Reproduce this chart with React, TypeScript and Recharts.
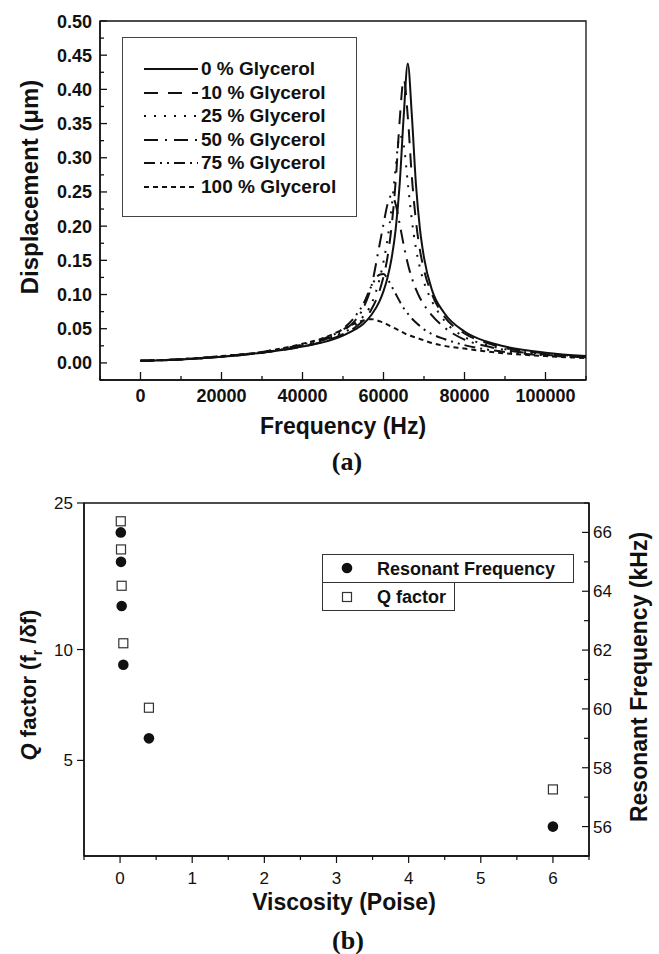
import React from "react";
import { LineChart, Line, XAxis, YAxis, ReferenceArea, ScatterChart, Scatter } from "recharts";

// ---- (a) displacement vs frequency ----
const freqHz = [0, 10000, 20000, 30000, 40000, 45000, 50000, 53000, 55000, 57000, 59000, 60000, 61000, 62000, 63000, 64000, 65000, 66000, 67000, 68000, 69000, 70000, 72000, 75000, 80000, 85000, 90000, 100000, 110000];
const glycerol0 = [0.003, 0.005, 0.009, 0.015, 0.024, 0.030, 0.040, 0.049, 0.057, 0.070, 0.090, 0.105, 0.125, 0.153, 0.195, 0.262, 0.362, 0.438, 0.362, 0.262, 0.196, 0.154, 0.106, 0.073, 0.046, 0.032, 0.024, 0.015, 0.010];
const glycerol10 = [0.003, 0.005, 0.009, 0.015, 0.024, 0.031, 0.042, 0.052, 0.062, 0.078, 0.105, 0.126, 0.155, 0.200, 0.265, 0.355, 0.415, 0.360, 0.272, 0.208, 0.165, 0.136, 0.100, 0.068, 0.043, 0.030, 0.022, 0.014, 0.009];
const glycerol25 = [0.003, 0.005, 0.009, 0.015, 0.025, 0.032, 0.044, 0.055, 0.068, 0.086, 0.122, 0.148, 0.181, 0.227, 0.285, 0.333, 0.318, 0.263, 0.209, 0.168, 0.139, 0.118, 0.090, 0.062, 0.038, 0.027, 0.020, 0.013, 0.009];
const glycerol50 = [0.003, 0.005, 0.0095, 0.015, 0.026, 0.033, 0.047, 0.062, 0.080, 0.112, 0.172, 0.203, 0.232, 0.245, 0.232, 0.203, 0.172, 0.145, 0.124, 0.108, 0.095, 0.085, 0.069, 0.052, 0.034, 0.025, 0.019, 0.012, 0.008];
const glycerol75 = [0.003, 0.0055, 0.0095, 0.016, 0.027, 0.035, 0.050, 0.068, 0.086, 0.112, 0.129, 0.130, 0.123, 0.112, 0.101, 0.090, 0.080, 0.072, 0.065, 0.059, 0.054, 0.049, 0.042, 0.035, 0.026, 0.020, 0.016, 0.011, 0.008];
const glycerol100 = [0.003, 0.0055, 0.010, 0.016, 0.028, 0.036, 0.049, 0.058, 0.062, 0.064, 0.061, 0.059, 0.056, 0.053, 0.050, 0.047, 0.044, 0.041, 0.039, 0.037, 0.035, 0.033, 0.029, 0.025, 0.021, 0.017, 0.014, 0.010, 0.007];

const seriesNames = ["0 % Glycerol", "10 % Glycerol", "25 % Glycerol", "50 % Glycerol", "75 % Glycerol", "100 % Glycerol"];
const seriesValues = [glycerol0, glycerol10, glycerol25, glycerol50, glycerol75, glycerol100];
const dashes = ["", "14 10", "2 8", "14 7 2 7", "11 5 2 5 2 5", "5 4"];

const freqTicks = [-10000, 0, 10000, 20000, 30000, 40000, 50000, 60000, 70000, 80000, 90000, 100000, 110000];
const dispTicks = [-0.025, 0, 0.025, 0.05, 0.075, 0.1, 0.125, 0.15, 0.175, 0.2, 0.225, 0.25, 0.275, 0.3, 0.325, 0.35, 0.375, 0.4, 0.425, 0.45, 0.475, 0.5];

// ---- (b) Q factor and resonant frequency vs viscosity ----
const viscosity = [0.01, 0.013, 0.022, 0.045, 0.4, 6];
const resonantKHz = [66.0, 65.0, 63.5, 61.5, 59.0, 56.0];
const qFactor = [22.3, 18.7, 14.9, 10.4, 6.95, 4.17];

const viscTicks = [-0.5, 0, 0.5, 1, 1.5, 2, 2.5, 3, 3.5, 4, 4.5, 5, 5.5, 6, 6.5];
const qTicks = [5, 10, 25];
const kHzTicks = [55, 56, 57, 58, 59, 60, 61, 62, 63, 64, 65, 66, 67];

const rows = freqHz.map((f, i) => {
  const r: Record<string, number> = { f };
  seriesNames.forEach((n, k) => (r[n] = seriesValues[k][i]));
  return r;
});
const resData = viscosity.map((v, i) => ({ v, khz: resonantKHz[i] }));
const qData = viscosity.map((v, i) => ({ v, q: qFactor[i] }));

const FONT = '"Liberation Sans", Arial, Helvetica, sans-serif';
const INK = "#111";

const FreqTick = ({ x, y, payload }: any) => {
  const v = payload.value;
  const major = v >= 0 && v % 20000 === 0;
  return (
    <g>
      <line x1={x} x2={x} y1={y} y2={y - (major ? 8 : 4)} stroke={INK} strokeWidth={1.3} />
      {major && (
        <text x={x} y={y + 22} textAnchor="middle" fontFamily={FONT} fontWeight="bold" fontSize={18} fill={INK}>
          {v}
        </text>
      )}
    </g>
  );
};

const DispTick = ({ x, y, payload }: any) => {
  const v = payload.value;
  const k = Math.round(v * 40);
  const major = k % 2 === 0 && v >= 0;
  return (
    <g>
      <line x1={x} x2={x + (major ? 7 : 4)} y1={y} y2={y} stroke={INK} strokeWidth={1.3} />
      {major && (
        <text x={x - 8} y={y + 6.5} textAnchor="end" fontFamily={FONT} fontWeight="bold" fontSize={18} fill={INK}>
          {v.toFixed(2)}
        </text>
      )}
    </g>
  );
};

const ViscTick = ({ x, y, payload }: any) => {
  const v = payload.value;
  const major = Number.isInteger(v);
  return (
    <g>
      <line x1={x} x2={x} y1={y} y2={y + (major ? 7 : 4)} stroke={INK} strokeWidth={1.2} />
      {major && (
        <text x={x} y={y + 27.5} textAnchor="middle" fontFamily={FONT} fontSize={17} fill={INK}>
          {v}
        </text>
      )}
    </g>
  );
};

const QTick = ({ x, y, payload }: any) => (
  <g>
    <line x1={x - 7} x2={x} y1={y} y2={y} stroke={INK} strokeWidth={1.2} />
    <text x={x - 11} y={y + 6} textAnchor="end" fontFamily={FONT} fontSize={17} fill={INK}>
      {payload.value}
    </text>
  </g>
);

const KHzTick = ({ x, y, payload }: any) => {
  const v = payload.value;
  const major = v % 2 === 0;
  return (
    <g>
      <line x1={x - (major ? 7 : 5)} x2={x} y1={y} y2={y} stroke={INK} strokeWidth={1.2} />
      {major && (
        <text x={x + 4} y={y + 6} textAnchor="start" fontFamily={FONT} fontSize={17} fill={INK}>
          {v}
        </text>
      )}
    </g>
  );
};

const Dot = (p: any) => <circle cx={p.cx} cy={p.cy} r={5.3} fill={INK} />;
const Box = (p: any) => (
  <rect x={p.cx - 4.5} y={p.cy - 4.5} width={9} height={9} fill="#fff" stroke="#333" strokeWidth={1.2} />
);

const title: React.CSSProperties = {
  position: "absolute",
  fontFamily: FONT,
  fontWeight: "bold",
  color: INK,
  whiteSpace: "nowrap",
  lineHeight: 1,
};

export default function App() {
  return (
    <div style={{ position: "absolute", left: 0, top: 0, width: 659, height: 954, background: "#fff" }}>
      {/* chart (a) */}
      <div style={{ position: "absolute", left: 0, top: 0 }}>
        <LineChart width={659} height={430} data={rows} margin={{ top: 21, right: 73, bottom: 0, left: 0 }}>
          <XAxis
            dataKey="f"
            type="number"
            domain={[-10000, 110000]}
            ticks={freqTicks}
            interval={0}
            height={50}
            tickSize={0}
            tickMargin={0}
            tickLine={false}
            tick={<FreqTick />}
            axisLine={{ stroke: INK, strokeWidth: 1.5 }}
          />
          <YAxis
            type="number"
            domain={[-0.025, 0.5]}
            ticks={dispTicks}
            interval={0}
            width={100}
            tickSize={0}
            tickMargin={0}
            tickLine={false}
            tick={<DispTick />}
            axisLine={{ stroke: INK, strokeWidth: 1.5 }}
          />
          <ReferenceArea x1={-10000} x2={110000} y1={-0.025} y2={0.5} fill="none" stroke={INK} strokeWidth={1.3} />
          {seriesNames.map((n, i) => (
            <Line
              key={n}
              dataKey={n}
              type="monotone"
              stroke={INK}
              strokeWidth={2}
              strokeDasharray={dashes[i] || undefined}
              dot={false}
              isAnimationActive={false}
            />
          ))}
        </LineChart>
      </div>

      {/* legend (a) */}
      <div
        style={{
          position: "absolute",
          left: 122,
          top: 37,
          width: 235,
          height: 180,
          border: "1px solid #444",
          boxSizing: "border-box",
          background: "#fff",
        }}
      >
        {seriesNames.map((n, i) => (
          <div key={n} style={{ position: "absolute", left: 21, top: 21 + i * 23.5, height: 20, display: "flex", alignItems: "center" }}>
            <svg width={54} height={10}>
              <line x1={0} x2={54} y1={5} y2={5} stroke={INK} strokeWidth={2} strokeDasharray={dashes[i] || undefined} />
            </svg>
            <span style={{ marginLeft: 3, fontFamily: FONT, fontWeight: "bold", fontSize: 19, color: INK }}>{n}</span>
          </div>
        ))}
      </div>

      <div style={{ ...title, fontSize: 24, left: 30, top: 187, transform: "translate(-50%, -50%) rotate(-90deg)" }}>
        Displacement (μm)
      </div>
      <div style={{ ...title, fontSize: 23, left: 343, top: 426, transform: "translate(-50%, -50%)" }}>Frequency (Hz)</div>
      <div
        style={{
          ...title,
          fontFamily: '"Liberation Serif", "Times New Roman", serif',
          fontSize: 26,
          left: 347,
          top: 462,
          transform: "translate(-50%, -50%)",
        }}
      >
        (a)
      </div>

      {/* chart (b) */}
      <div style={{ position: "absolute", left: 0, top: 470 }}>
        <ScatterChart width={659} height={430} margin={{ top: 33, right: 0, bottom: 0, left: 0 }}>
          <XAxis
            dataKey="v"
            type="number"
            domain={[-0.5, 6.5]}
            ticks={viscTicks}
            interval={0}
            height={44}
            tickSize={0}
            tickMargin={0}
            tickLine={false}
            tick={<ViscTick />}
            axisLine={{ stroke: INK, strokeWidth: 1.5 }}
          />
          <YAxis
            yAxisId="q"
            dataKey="q"
            type="number"
            scale="log"
            domain={[2.75, 25]}
            allowDataOverflow
            ticks={qTicks}
            interval={0}
            width={84}
            tickSize={0}
            tickMargin={0}
            tickLine={false}
            tick={<QTick />}
            axisLine={{ stroke: INK, strokeWidth: 1.5 }}
          />
          <YAxis
            yAxisId="khz"
            dataKey="khz"
            orientation="right"
            type="number"
            domain={[55, 67]}
            ticks={kHzTicks}
            interval={0}
            width={70}
            tickSize={0}
            tickMargin={0}
            tickLine={false}
            tick={<KHzTick />}
            axisLine={{ stroke: INK, strokeWidth: 1.5 }}
          />
          <ReferenceArea yAxisId="khz" x1={-0.5} x2={6.5} y1={55} y2={67} fill="none" stroke={INK} strokeWidth={1.3} />
          <Scatter yAxisId="khz" data={resData} dataKey="khz" shape={<Dot />} isAnimationActive={false} />
          <Scatter yAxisId="q" data={qData} dataKey="q" shape={<Box />} isAnimationActive={false} />
        </ScatterChart>
      </div>

      {/* legend (b) */}
      <div style={{ position: "absolute", left: 322, top: 554, width: 252, height: 29, border: "1px solid #333", boxSizing: "border-box", background: "#fff" }}>
        <svg width={12} height={12} style={{ position: "absolute", left: 18, top: 7 }}>
          <circle cx={6} cy={6} r={5.3} fill={INK} />
        </svg>
        <span style={{ position: "absolute", left: 54, top: 4, fontFamily: FONT, fontWeight: "bold", fontSize: 18, color: INK, whiteSpace: "nowrap" }}>
          Resonant Frequency
        </span>
      </div>
      <div style={{ position: "absolute", left: 322, top: 582, width: 133, height: 29, border: "1px solid #333", boxSizing: "border-box", background: "#fff" }}>
        <svg width={12} height={12} style={{ position: "absolute", left: 18, top: 8 }}>
          <rect x={1.5} y={1.5} width={9} height={9} fill="#fff" stroke="#333" strokeWidth={1.2} />
        </svg>
        <span style={{ position: "absolute", left: 54, top: 4, fontFamily: FONT, fontWeight: "bold", fontSize: 18, color: INK, whiteSpace: "nowrap" }}>
          Q factor
        </span>
      </div>

      <div style={{ ...title, fontSize: 22, left: 31, top: 685, transform: "translate(-50%, -50%) rotate(-90deg)" }}>
        <span style={{ fontStyle: "italic" }}>Q</span> factor (f<sub style={{ fontSize: 14 }}>r</sub> /δf)
      </div>
      <div style={{ ...title, fontSize: 23, left: 639, top: 677, transform: "translate(-50%, -50%) rotate(-90deg)" }}>
        Resonant Frequency (kHz)
      </div>
      <div style={{ ...title, fontSize: 23, left: 344, top: 902, transform: "translate(-50%, -50%)" }}>Viscosity (Poise)</div>
      <div
        style={{
          ...title,
          fontFamily: '"Liberation Serif", "Times New Roman", serif',
          fontSize: 26,
          left: 348,
          top: 941,
          transform: "translate(-50%, -50%)",
        }}
      >
        (b)
      </div>
    </div>
  );
}
